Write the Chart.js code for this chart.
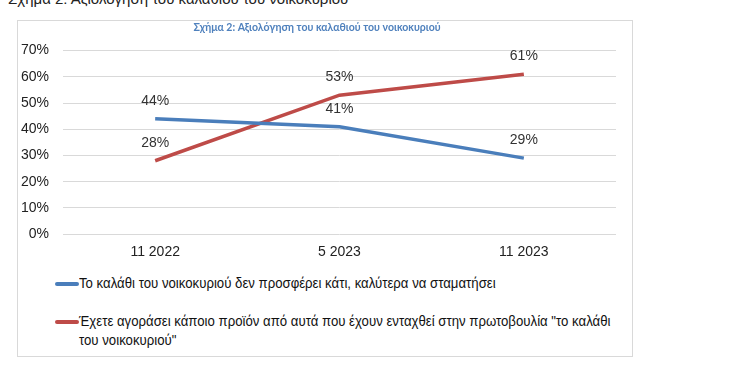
<!DOCTYPE html>
<html>
<head>
<meta charset="utf-8">
<script src="https://cdn.jsdelivr.net/npm/chart.js@4/dist/chart.umd.min.js"></script>
<style>
  html, body { margin: 0; padding: 0; background: #fff; }
  body { width: 735px; height: 367px; overflow: hidden; position: relative; font-family: "Liberation Sans", Arial, sans-serif; }
  #pagetitle { position: absolute; left: 8px; top: -10px; font-size: 15px; color: #222; white-space: nowrap; }
  #box { position: absolute; left: 17px; top: 20px; width: 614px; height: 335px; border: 1.5px solid #d9d9d9; }
  #cwrap { position: absolute; left: 0; top: 0; width: 614px; height: 250px; }
  #legend { position: absolute; left: 37px; top: 252px; width: 600px; font-family: "Liberation Sans", Arial, sans-serif; font-size: 15px; color: #111; }
  .item { position: relative; height: 38px; }
  .swatch { position: absolute; left: 0; top: 9px; width: 24px; height: 4px; border-radius: 2px; }
  .txt { position: absolute; left: 24px; top: 0; width: 630px; line-height: 19px; transform: scaleX(0.88); transform-origin: 0 0; }
</style>
</head>
<body>
<div id="pagetitle">Σχήμα 2: Αξιολόγηση του καλαθιού του νοικοκυριού</div>
<div id="box">
  <div id="cwrap"><canvas id="c"></canvas></div>
  <div id="legend"></div>
</div>
<script>
const chartTitle = "Σχήμα 2: Αξιολόγηση του καλαθιού του νοικοκυριού";
const categories = ["11 2022", "5 2023", "11 2023"];
const seriesNames = [
  "Το καλάθι του νοικοκυριού δεν προσφέρει κάτι, καλύτερα να σταματήσει",
  "Έχετε αγοράσει κάποιο προϊόν από αυτά που έχουν ενταχθεί στην πρωτοβουλία \"το καλάθι του νοικοκυριού\""
];
const stopValues = [44, 41, 29];
const boughtValues = [28, 53, 61];
const seriesColors = ["#4a7ebb", "#be4b48"];
const yTicks = [0, 10, 20, 30, 40, 50, 60, 70];

const labelPlugin = {
  id: 'pointLabels',
  afterDatasetsDraw(chart) {
    const ctx = chart.ctx;
    ctx.save();
    ctx.font = '14px "Liberation Sans", Arial, sans-serif';
    ctx.fillStyle = '#333';
    ctx.textAlign = 'center';
    ctx.textBaseline = 'middle';
    chart.data.datasets.forEach((ds, i) => {
      const meta = chart.getDatasetMeta(i);
      meta.data.forEach((pt, j) => {
        ctx.fillText(ds.data[j] + '%', pt.x, pt.y - 18);
      });
    });
    ctx.restore();
  }
};

new Chart(document.getElementById('c'), {
  type: 'line',
  data: {
    labels: categories,
    datasets: [
      { label: seriesNames[0], data: stopValues, borderColor: seriesColors[0], backgroundColor: seriesColors[0], borderWidth: 3.5, pointRadius: 0, tension: 0 },
      { label: seriesNames[1], data: boughtValues, borderColor: seriesColors[1], backgroundColor: seriesColors[1], borderWidth: 3.5, pointRadius: 0, tension: 0 }
    ]
  },
  options: {
    responsive: true,
    maintainAspectRatio: false,
    animation: false,
    layout: { padding: { left: 0, right: 16, top: 0, bottom: 0 } },
    plugins: {
      legend: { display: false },
      tooltip: { enabled: false },
      title: {
        display: true,
        text: chartTitle,
        color: '#4f81bd',
        font: { family: 'Lato, "Open Sans", sans-serif', size: 10.5, weight: 'bold' },
        padding: { top: 0, bottom: 17 }
      }
    },
    scales: {
      x: {
        offset: true,
        grid: { display: false, drawTicks: false },
        border: { display: false },
        ticks: { color: '#222', font: { family: '"Liberation Sans", Arial, sans-serif', size: 14 }, padding: 10 }
      },
      y: {
        min: 0, max: 70,
        afterFit(scale) { scale.width = 45; },
        afterBuildTicks(scale) { scale.ticks = yTicks.map(v => ({ value: v })); },
        grid: { color: '#d9d9d9', lineWidth: 1, drawTicks: false },
        border: { display: false },
        ticks: { color: '#222', font: { family: '"Liberation Sans", Arial, sans-serif', size: 14 }, padding: 14, callback: v => v + '%' }
      }
    }
  },
  plugins: [labelPlugin]
});

const legend = document.getElementById('legend');
seriesNames.forEach((name, i) => {
  const it = document.createElement('div');
  it.className = 'item';
  const sw = document.createElement('span');
  sw.className = 'swatch';
  sw.style.background = seriesColors[i];
  it.appendChild(sw);
  const tx = document.createElement('div');
  tx.className = 'txt';
  tx.textContent = name;
  it.appendChild(tx);
  legend.appendChild(it);
});
</script>
</body>
</html>
